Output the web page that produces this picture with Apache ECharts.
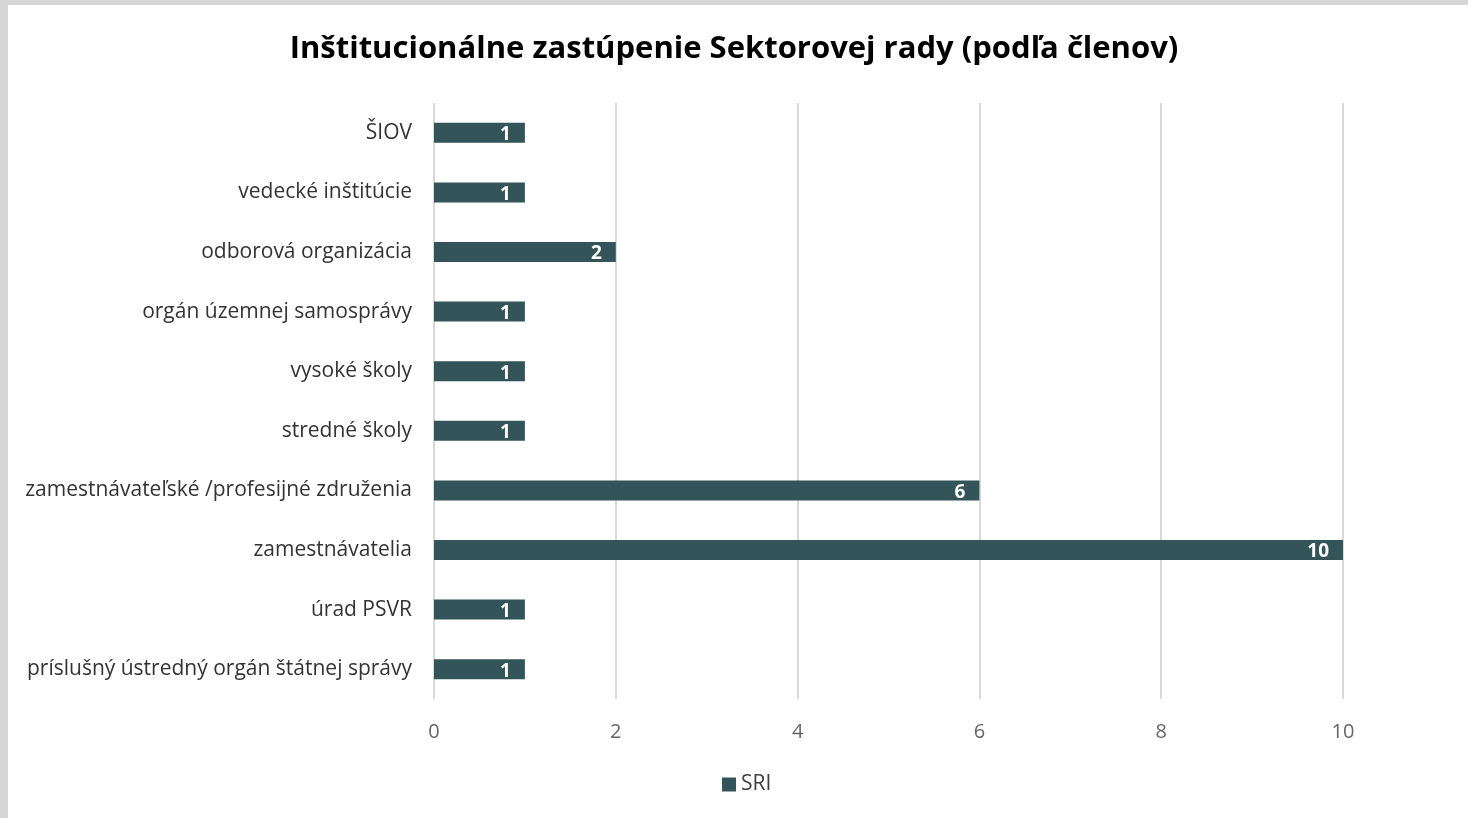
<!DOCTYPE html>
<html>
<head>
<meta charset="utf-8">
<script src="https://cdn.jsdelivr.net/npm/echarts@6/dist/echarts.min.js"></script>
<style>
    html, body {
        margin: 0;
        padding: 0;
        width: 100%;
        height: 100%;
        overflow: hidden;
        background: #fff;
    }
    #chart {
        position: absolute;
        left: 0;
        top: 0;
        width: 1468px;
        height: 818px;
    }
    .edge_top, .edge_left {
        position: absolute;
        background: #d6d6d6;
        z-index: 2;
    }
    .edge_top { left: 0; top: 0; width: 1468px; height: 5px; }
    .edge_left { left: 0; top: 0; width: 8px; height: 818px; }
</style>
</head>
<body>
<div id="chart"></div>
<div class="edge_top"></div>
<div class="edge_left"></div>
<script>
// kategórie zhora nadol
const categories = [
    'ŠIOV',
    'vedecké inštitúcie',
    'odborová organizácia',
    'orgán územnej samosprávy',
    'vysoké školy',
    'stredné školy',
    'zamestnávateľské /profesijné združenia',
    'zamestnávatelia',
    'úrad PSVR',
    'príslušný ústredný orgán štátnej správy'
]
const sriValues = [1, 1, 2, 1, 1, 1, 6, 10, 1, 1]
const xTicks = [0, 2, 4, 6, 8, 10]

const font = "'Open Sans', 'Noto Sans', sans-serif"
const chartInstance = echarts.init(document.getElementById('chart'))

const option = {
    backgroundColor: '#fff',
    animation: false,
    title: {
        text: 'Inštitucionálne zastúpenie Sektorovej rady (podľa členov)',
        left: 'center',
        top: 29,
        textStyle: {
            fontFamily: font,
            fontSize: 31,
            fontWeight: 'bold',
            color: '#000'
        }
    },
    legend: {
        bottom: 18,
        left: 717,
        itemWidth: 14,
        itemHeight: 14,
        itemGap: 6,
        icon: 'rect',
        textStyle: {
            fontFamily: font,
            fontSize: 21,
            color: '#404040'
        },
        data: ['SRI']
    },
    grid: {
        left: 434,
        right: 125,
        top: 103,
        bottom: 119,
        containLabel: false
    },
    xAxis: {
        type: 'value',
        min: xTicks[0],
        max: xTicks[xTicks.length - 1],
        interval: 2,
        axisLine: { show: false },
        axisTick: { show: false },
        axisLabel: {
            margin: 23,
            fontFamily: font,
            fontSize: 20,
            color: '#666'
        },
        splitLine: {
            show: true,
            showMinLine: true,
            showMaxLine: true,
            lineStyle: { color: '#d9d9d9', width: 2 }
        }
    },
    yAxis: {
        type: 'category',
        inverse: true,
        data: categories,
        axisLine: { show: false },
        axisTick: { show: false },
        axisLabel: {
            margin: 22,
            padding: [4, 0, 0, 0],
            fontFamily: font,
            fontSize: 21,
            color: '#333'
        }
    },
    series: [
        {
            name: 'SRI',
            type: 'bar',
            data: sriValues,
            barWidth: 20,
            itemStyle: { color: '#33555a' },
            label: {
                show: true,
                position: 'insideRight',
                distance: 14,
                offset: [0, 2],
                fontFamily: font,
                fontSize: 19,
                fontWeight: 'bold',
                color: '#fff'
            }
        }
    ]
}
chartInstance.setOption(option)
</script>
</body>
</html>
